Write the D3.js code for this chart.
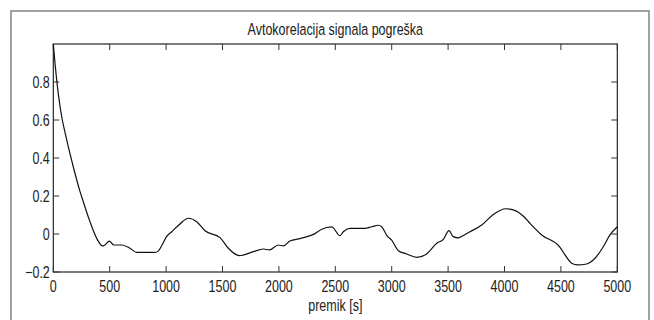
<!DOCTYPE html>
<html>
<head>
<meta charset="utf-8">
<script src="https://cdn.jsdelivr.net/npm/d3@7"></script>
<style>
  html, body { margin: 0; padding: 0; background: #fff; }
  svg { display: block; }
  text { font-family: "Liberation Sans", Arial, sans-serif; fill: #222; }
</style>
</head>
<body>
<svg id="chart" width="654" height="320"></svg>
<script>
// Autocorrelation of the error signal, sampled at selected lags [s]
const lags = [0, 15, 30, 65, 119, 177, 237, 266, 325, 385, 437, 457, 497, 538, 606, 680, 739, 902, 930, 975,
  999, 1050, 1123, 1197, 1271, 1345, 1478, 1552, 1649, 1773, 1862, 1915, 1995, 2039, 2098, 2187, 2320, 2379,
  2468, 2542, 2571, 2630, 2763, 2823, 2882, 2911, 2961, 3000, 3059, 3133, 3222, 3310, 3399, 3458, 3508, 3546,
  3590, 3635, 3694, 3798, 3901, 4011, 4084, 4173, 4226, 4330, 4492, 4536, 4596, 4646, 4729, 4787, 4876, 4935, 5000];
const acf = [1.0, 0.9, 0.81, 0.65, 0.495, 0.354, 0.223, 0.17, 0.065, -0.023, -0.063, -0.058, -0.037, -0.058,
  -0.058, -0.075, -0.097, -0.097, -0.09, -0.046, -0.018, 0.012, 0.053, 0.083, 0.065, 0.017, -0.019, -0.075,
  -0.114, -0.093, -0.079, -0.084, -0.058, -0.063, -0.037, -0.024, 0.002, 0.025, 0.038, -0.009, 0.012, 0.03,
  0.03, 0.038, 0.046, 0.038, -0.011, -0.032, -0.088, -0.105, -0.123, -0.105, -0.049, -0.028, 0.018, -0.014,
  -0.02, -0.008, 0.012, 0.047, 0.103, 0.133, 0.126, 0.091, 0.056, -0.005, -0.07, -0.11, -0.154, -0.163,
  -0.158, -0.137, -0.067, -0.005, 0.038];

const xTicks = [0, 500, 1000, 1500, 2000, 2500, 3000, 3500, 4000, 4500, 5000];
const yTicks = [-0.2, 0, 0.2, 0.4, 0.6, 0.8];
const titleText = "Avtokorelacija signala pogreška";
const xLabelText = "premik [s]";

const svg = d3.select("#chart");
const plot = { left: 53.3, right: 617.3, top: 44, bottom: 272 };
const fontSize = 12.5, stretch = 1.32;

const x = d3.scaleLinear().domain([0, 5000]).range([plot.left, plot.right]);
const y = d3.scaleLinear().domain([-0.2, 1]).range([plot.bottom, plot.top]);

// outer figure frame
svg.append("rect")
  .attr("x", 11).attr("y", 11).attr("width", 638).attr("height", 330)
  .attr("fill", "#fff").attr("stroke", "#8a8a8a").attr("stroke-width", 1.6);

// text helper: tall, narrow glyphs
function label(px, py, str, anchor) {
  svg.append("g")
    .attr("transform", `translate(${px},${py}) scale(1,${stretch})`)
    .append("text")
    .attr("text-anchor", anchor)
    .attr("font-size", fontSize)
    .text(str);
}

// plot box
svg.append("rect")
  .attr("x", plot.left).attr("y", plot.top)
  .attr("width", plot.right - plot.left).attr("height", plot.bottom - plot.top)
  .attr("fill", "none").attr("stroke", "#111").attr("stroke-width", 1.1);

// inward ticks on all four sides
const tickLen = 6;
const tg = svg.append("g").attr("stroke", "#333").attr("stroke-width", 1);
xTicks.forEach(t => {
  tg.append("line").attr("x1", x(t)).attr("x2", x(t)).attr("y1", plot.bottom).attr("y2", plot.bottom - tickLen);
  tg.append("line").attr("x1", x(t)).attr("x2", x(t)).attr("y1", plot.top).attr("y2", plot.top + tickLen);
});
yTicks.forEach(t => {
  tg.append("line").attr("x1", plot.left).attr("x2", plot.left + tickLen).attr("y1", y(t)).attr("y2", y(t));
  tg.append("line").attr("x1", plot.right).attr("x2", plot.right - tickLen).attr("y1", y(t)).attr("y2", y(t));
});

// tick labels
xTicks.forEach(t => label(x(t), 292, String(t), "middle"));
yTicks.forEach(t => label(plot.left - 3.5, y(t) + 5.5, d3.format("")(t), "end"));

// title and axis label
label((plot.left + plot.right) / 2, 34.5, titleText, "middle");
label((plot.left + plot.right) / 2, 311, xLabelText, "middle");

// autocorrelation curve
const data = lags.map((l, i) => ({ l, v: acf[i] }));
const line = d3.line().x(d => x(d.l)).y(d => y(d.v)).curve(d3.curveMonotoneX);
svg.append("path")
  .datum(data)
  .attr("d", line)
  .attr("fill", "none")
  .attr("stroke", "#111")
  .attr("stroke-width", 1.2);
</script>
</body>
</html>
